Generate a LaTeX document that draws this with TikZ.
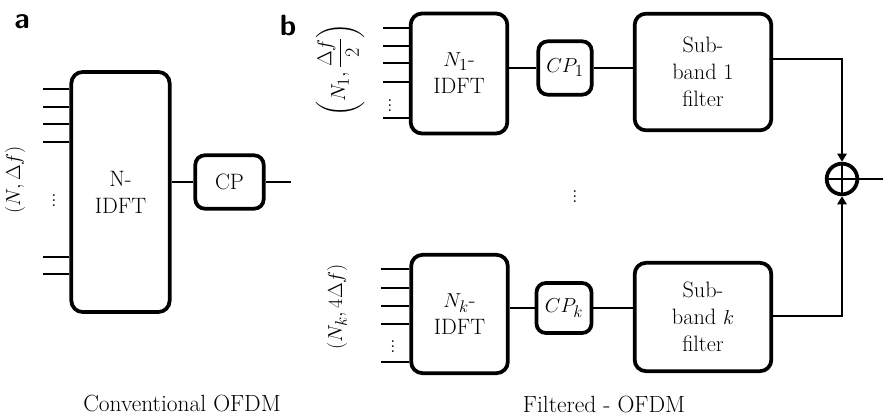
\documentclass[tikz,border=0pt]{standalone}
\usepackage{amsmath}
\usetikzlibrary{positioning, arrows.meta, calc}
\begin{document}
\begin{tikzpicture}[
    x=0.03cm, y=-0.03cm,
    block/.style={draw, rectangle, rounded corners=0.34cm, line width=3.2pt, align=center, inner sep=0pt, font=\fontsize{19}{23}\selectfont},
    cpbox/.style={draw, rectangle, rounded corners=0.28cm, line width=3.2pt, align=center, inner sep=0pt, font=\fontsize{19}{23}\selectfont},
    adder/.style={draw, circle, line width=3.2pt, minimum size=0.92cm, inner sep=0pt},
    wire/.style={line width=1.6pt},
    caption/.style={font=\fontsize{20}{24}\selectfont},
    mathlabel/.style={font=\fontsize{19}{23}\selectfont},
    panel/.style={font=\sffamily\bfseries\fontsize{25}{28}\selectfont}
]
    \useasboundingbox (0,0) rectangle (883,417);

    % Panel a: conventional OFDM
    \node[panel] (labA) at (22,22) {a};
    \node[block, minimum width=2.95cm, minimum height=7.2cm] (IDFT) at (120.5,192) {N-\\IDFT};
    \node[cpbox, minimum width=2.05cm, minimum height=1.6cm] (CP) at (229.5,182) {CP};
    \node[mathlabel, rotate=90] (parA) at (15,180) {$(N,\Delta f)$};
    \node[mathlabel] (dotsA) at (54,197) {$\vdots$};
    \node[caption] (capA) at (182,403) {Conventional OFDM};

    \foreach \y in {89,107,124,142,257,274}
        \draw[wire] (IDFT.west |- 0,\y) -- ++(-26,0);
    \draw[wire] (IDFT.east |- CP) -- (CP);
    \draw[wire] (CP.east) -- ++(25,0);

    % Panel b: filtered OFDM
    \node[panel] (labB) at (288,25) {b};

    % Sub-band 1
    \node[block, minimum width=2.9cm, minimum height=3.6cm] (IDFTa) at (459,73.5) {$N_1$-\\IDFT};
    \node[cpbox, minimum width=1.6cm, minimum height=1.6cm] (CPa) at (565,68) {$CP_1$};
    \node[block, minimum width=4.1cm, minimum height=3.5cm] (SBa) at (703,72) {Sub-\\band 1\\filter};
    \node[mathlabel, rotate=90] (parB) at (340,70) {$\left(N_1,\dfrac{\Delta f}{2}\right)$};
    \node[mathlabel] (dotsB) at (390,102) {$\vdots$};

    \foreach \y in {28,46,63,82,118}
        \draw[wire] (IDFTa.west |- 0,\y) -- ++(-26,0);
    \draw[wire] (IDFTa.east |- CPa) -- (CPa);
    \draw[wire] (CPa) -- (CPa -| SBa.west);

    % Sub-band k
    \node[block, minimum width=2.9cm, minimum height=3.55cm] (IDFTk) at (459.5,314) {$N_k$-\\IDFT};
    \node[cpbox, minimum width=1.65cm, minimum height=1.5cm] (CPk) at (564,308) {$CP_k$};
    \node[block, minimum width=4.1cm, minimum height=3.25cm] (SBk) at (703,317) {Sub-\\band $k$\\filter};
    \node[mathlabel, rotate=90] (parK) at (337,307) {$(N_k,4\Delta f)$};
    \node[mathlabel] (dotsK) at (393,343) {$\vdots$};

    \foreach \y in {269,288,306,324,362}
        \draw[wire] (IDFTk.west |- 0,\y) -- ++(-28,0);
    \draw[wire] (IDFTk.east |- CPk) -- (CPk);
    \draw[wire] (CPk) -- (CPk -| SBk.west);

    % Summation
    \node[mathlabel] (dotsM) at (575,193) {$\vdots$};
    \node[adder] (sum) at (842,179) {};
    \draw[wire] (sum.north) -- (sum.south) (sum.west) -- (sum.east);
    \draw[wire, -{Triangle[length=7pt, width=8pt]}] (SBa.east |- 0,59) -| (sum.north);
    \draw[wire, -{Triangle[length=7pt, width=8pt]}] (SBk.east |- 0,316) -| (sum.south);
    \draw[wire] (sum.east) -- ++(25,0);
    \node[caption] (capB) at (604,404) {Filtered - OFDM};

\end{tikzpicture}
\end{document}
